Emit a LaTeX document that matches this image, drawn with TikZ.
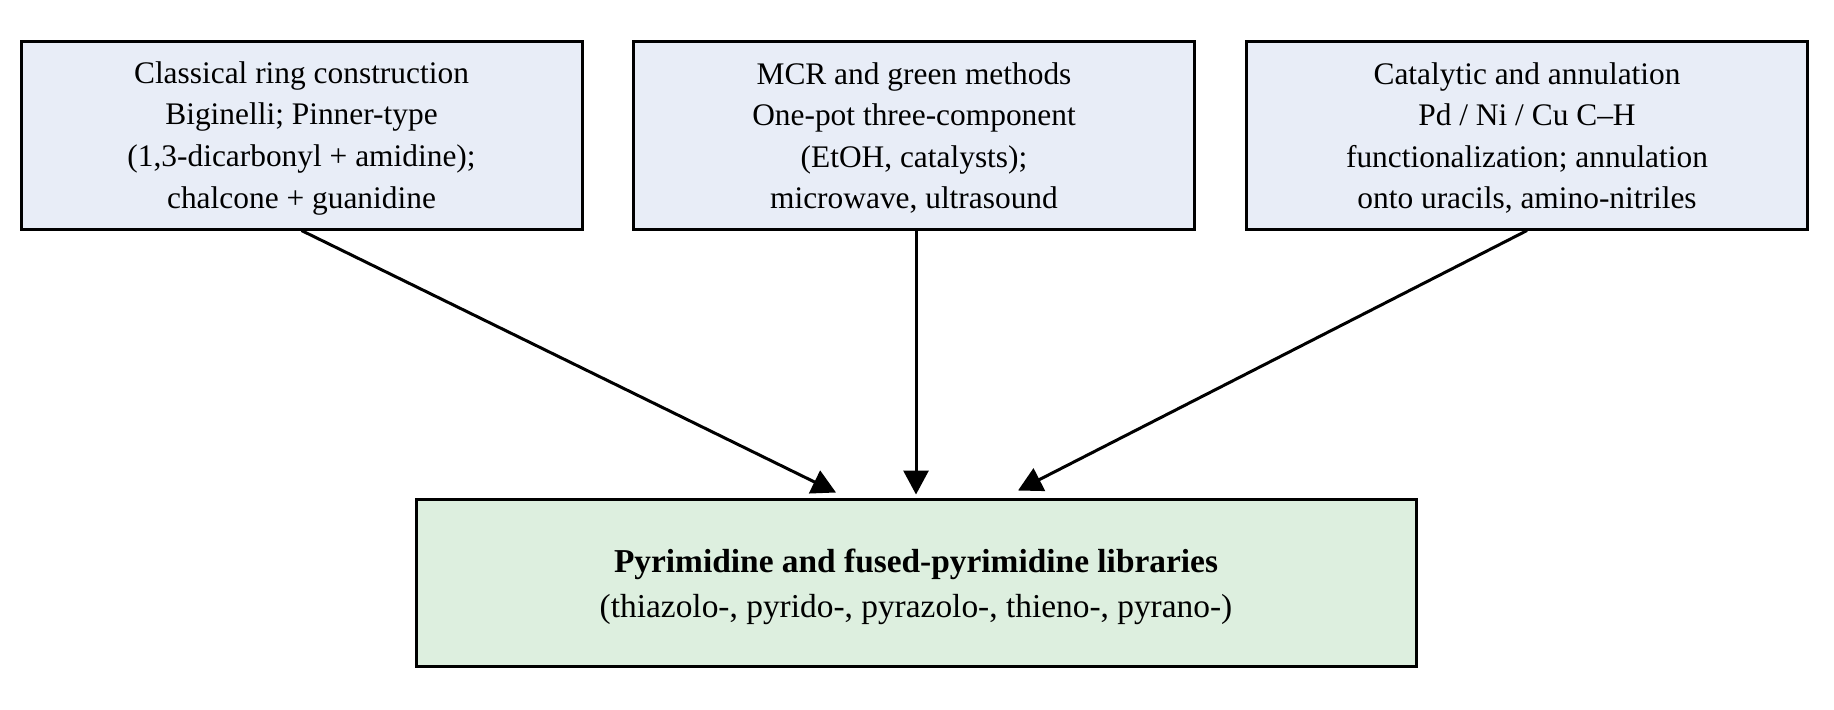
\documentclass[tikz,border=0pt]{standalone}
\usepackage{fontspec}
\setmainfont{Liberation Serif}
\usetikzlibrary{arrows.meta,calc}
\definecolor{topfill}{HTML}{E8EDF7}
\definecolor{botfill}{HTML}{DDEFDF}
\newcommand{\lift}[1]{\rule{0pt}{#1}}
\begin{document}
\begin{tikzpicture}[x=0.5pt,y=-0.5pt,
  srcbox/.style={draw=black,line width=1.5pt,fill=topfill,minimum width=280.5pt,minimum height=94pt,inner sep=0pt,align=center,font=\fontsize{15.7}{20.8}\selectfont},
  tgtbox/.style={draw=black,line width=1.5pt,fill=botfill,minimum width=500pt,minimum height=83.5pt,inner sep=0pt,align=center,font=\fontsize{16.7}{22.8}\selectfont},
  conn/.style={line width=1.5pt,-{Triangle[length=12pt,width=12.5pt]}}]
\useasboundingbox (0,0) rectangle (1834,709);
\node[srcbox] (b1) at (301.5,135) {\lift{14pt}Classical ring construction\\Biginelli; Pinner-type\\(1,3-dicarbonyl + amidine);\\chalcone + guanidine};
\node[srcbox] (b2) at (914,135) {\lift{14pt}MCR and green methods\\One-pot three-component\\(EtOH, catalysts);\\microwave, ultrasound};
\node[srcbox] (b3) at (1527,135) {\lift{14pt}Catalytic and annulation\\Pd / Ni / Cu C--H\\functionalization; annulation\\onto uracils, amino-nitriles};
\node[tgtbox] (bot) at (916,582.5) {\lift{16pt}\textbf{Pyrimidine and fused-pyrimidine libraries}\\(thiazolo-, pyrido-, pyrazolo-, thieno-, pyrano-)};
\draw[conn] (b1.south) -- ($(bot.north)+(-80,-5)$);
\draw[conn] ($(b2.south)+(2,0)$) -- ($(bot.north)+(0,-3)$);
\draw[conn] (b3.south) -- ($(bot.north)+(102,-7)$);
\end{tikzpicture}
\end{document}
